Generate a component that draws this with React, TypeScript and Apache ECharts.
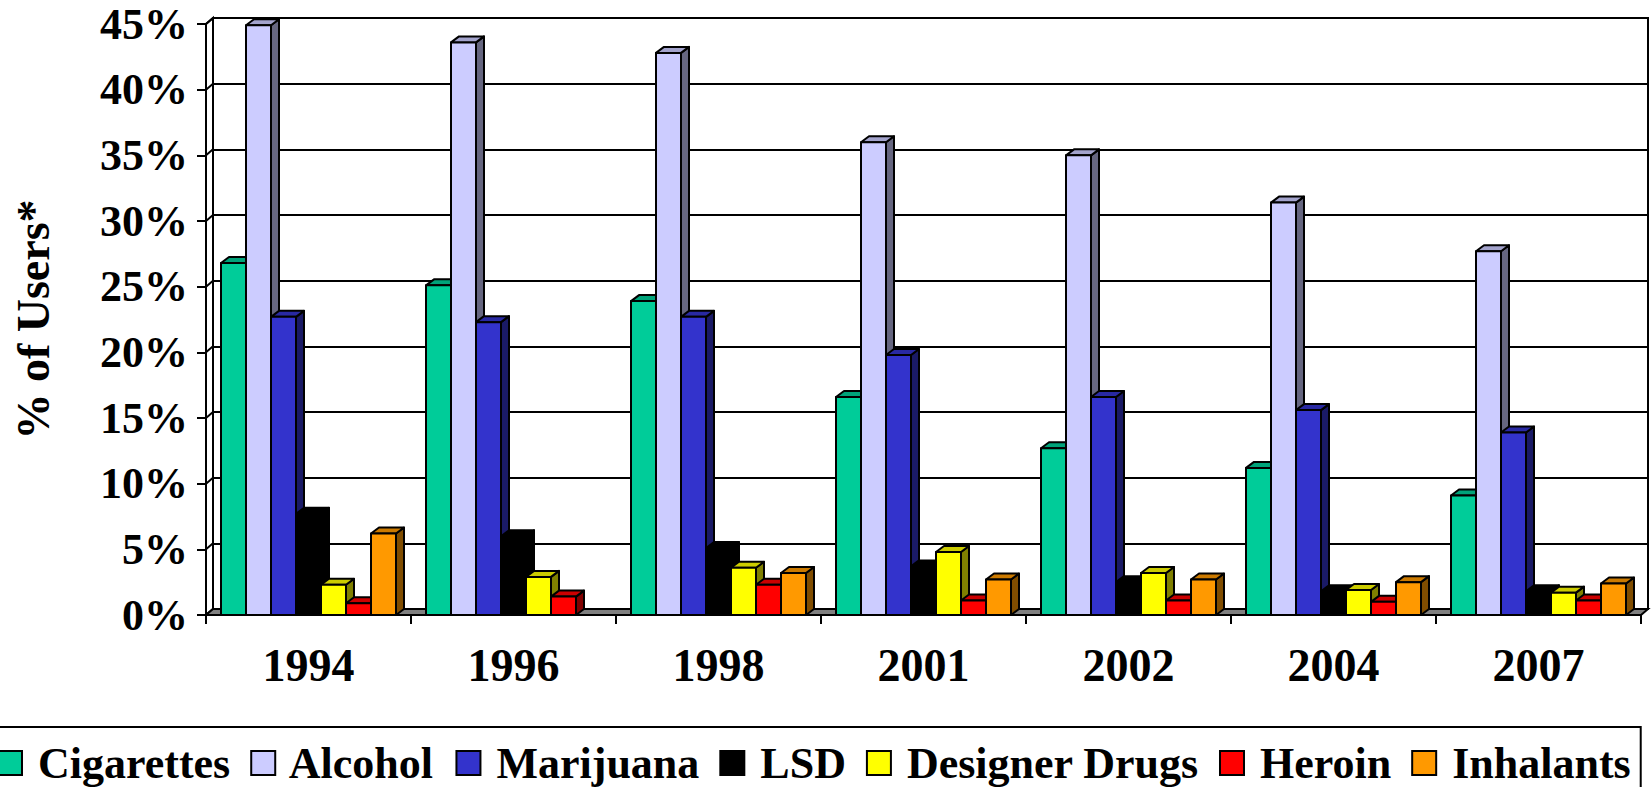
import React, { useEffect, useRef } from "react";
import * as echarts from "echarts";

// ---------- data ----------
const years = ["1994", "1996", "1998", "2001", "2002", "2004", "2007"];
const seriesNames = ["Cigarettes", "Alcohol", "Marijuana", "LSD", "Designer Drugs", "Heroin", "Inhalants"];
const cigarettes = [26.8, 25.1, 23.9, 16.6, 12.7, 11.2, 9.1];
const alcohol = [44.9, 43.6, 42.8, 36.0, 35.0, 31.4, 27.7];
const marijuana = [22.7, 22.3, 22.7, 19.8, 16.6, 15.6, 13.9];
const lsd = [7.7, 6.0, 5.1, 3.7, 2.5, 1.8, 1.8];
const designerDrugs = [2.3, 2.9, 3.6, 4.8, 3.2, 1.9, 1.7];
const heroin = [0.9, 1.4, 2.3, 1.1, 1.1, 1.0, 1.1];
const inhalants: (number | null)[] = [6.2, null, 3.2, 2.7, 2.7, 2.5, 2.4];
const yMin = 0;
const yMax = 45;
const yStep = 5;

const allValues = [cigarettes, alcohol, marijuana, lsd, designerDrugs, heroin, inhalants];

// ---------- styles ----------
const frontColors = ["#00CC99", "#CCCCFF", "#3333CC", "#000000", "#FFFF00", "#FF0000", "#FF9900"];
const topColors = ["#00A37A", "#A3A3CC", "#2929A3", "#000000", "#CCCC00", "#CC0000", "#CC7A00"];
const sideColors = ["#006650", "#666680", "#1A1A66", "#000000", "#808000", "#800000", "#804D00"];
const FONT = "'Liberation Serif', 'Times New Roman', serif";
const WALL_DX = 7;
const WALL_DY = 6;
const BAR_DX = 8;
const BAR_DY = 6;
const BAR_SLOT = 25 / 205;

const G_LEFT = 206;
const G_RIGHT = 11;
const G_TOP = 24;
const G_BOTTOM = 172;

function makeBarSeries(s: number): any {
  const vals = allValues[s];
  const data: any[] = [];
  vals.forEach((v, i) => {
    if (v !== null && v !== undefined) data.push([i, v]);
  });
  return {
    type: "custom",
    name: seriesNames[s],
    xAxisIndex: 0,
    yAxisIndex: 0,
    itemStyle: { color: frontColors[s], borderColor: "#000", borderWidth: 2 },
    data,
    encode: { x: 0, y: 1 },
    clip: false,
    silent: true,
    renderItem: (params: any, api: any) => {
      const cat = api.value(0);
      const v = api.value(1);
      const base = api.coord([cat, 0]);
      const top = api.coord([cat, v]);
      const band = api.size([1, 0])[0];
      const w = band * BAR_SLOT;
      const x0 = base[0] - (seriesNames.length * w) / 2 + s * w;
      const x1 = x0 + w;
      const ty = top[1];
      const by = base[1];
      const stroke = { stroke: "#000", lineWidth: 2, lineJoin: "round" };
      return {
        type: "group",
        children: [
          {
            type: "polygon",
            shape: {
              points: [
                [x1, ty],
                [x1 + BAR_DX, ty - BAR_DY],
                [x1 + BAR_DX, by - BAR_DY],
                [x1, by],
              ],
            },
            style: { fill: sideColors[s], ...stroke },
          },
          {
            type: "polygon",
            shape: {
              points: [
                [x0, ty],
                [x0 + BAR_DX, ty - BAR_DY],
                [x1 + BAR_DX, ty - BAR_DY],
                [x1, ty],
              ],
            },
            style: { fill: topColors[s], ...stroke },
          },
          {
            type: "rect",
            shape: { x: x0, y: ty, width: w, height: by - ty },
            style: { fill: frontColors[s], ...stroke },
          },
        ],
      };
    },
  };
}

const decorSeries: any = {
  type: "custom",
  name: "__decor",
  xAxisIndex: 0,
  yAxisIndex: 0,
  silent: true,
  clip: false,
  data: [[0, 0]],
  renderItem: (params: any, api: any) => {
    const cs = params.coordSys;
    const xl = cs.x;
    const xr = cs.x + cs.width;
    const yt = cs.y;
    const yb = cs.y + cs.height;
    const children: any[] = [];
    // left side wall
    children.push({
      type: "polygon",
      shape: {
        points: [
          [xl, yt],
          [xl + WALL_DX, yt - WALL_DY],
          [xl + WALL_DX, yb - WALL_DY],
          [xl, yb],
        ],
      },
      style: { fill: "#fff", stroke: "#000", lineWidth: 2 },
    });
    for (let v = yMin; v <= yMax; v += yStep) {
      const p = api.coord([0, v]);
      children.push({
        type: "line",
        shape: { x1: xl, y1: p[1], x2: xl + WALL_DX, y2: p[1] - WALL_DY },
        style: { stroke: "#000", lineWidth: 2 },
      });
    }
    // floor
    children.push({
      type: "polygon",
      shape: {
        points: [
          [xl, yb],
          [xl + WALL_DX, yb - WALL_DY],
          [xr + WALL_DX, yb - WALL_DY],
          [xr, yb],
        ],
      },
      style: { fill: "#808080", stroke: "#000", lineWidth: 2 },
    });
    return { type: "group", children };
  },
};

export default function App() {
  const ref = useRef<HTMLDivElement>(null);
  useEffect(() => {
    if (!ref.current) return;
    const chart = echarts.init(ref.current, undefined, { renderer: "svg" });
    const option: any = {
      animation: false,
      backgroundColor: "#fff",
      textStyle: { fontFamily: FONT },
      grid: [
        { left: G_LEFT, right: G_RIGHT, top: G_TOP, bottom: G_BOTTOM, containLabel: false },
        {
          left: G_LEFT + WALL_DX,
          right: G_RIGHT - WALL_DX,
          top: G_TOP - WALL_DY,
          bottom: G_BOTTOM + WALL_DY,
          show: true,
          backgroundColor: "#fff",
          borderColor: "#000",
          borderWidth: 2,
          z: 0,
        },
      ],
      xAxis: [
        {
          type: "category",
          gridIndex: 0,
          data: years,
          axisLine: { show: true, lineStyle: { color: "#000", width: 2 } },
          axisTick: { show: true, length: 9, lineStyle: { color: "#000", width: 2 } },
          axisLabel: {
            margin: 27,
            color: "#000",
            fontFamily: FONT,
            fontWeight: "bold",
            fontSize: 46,
          },
          splitLine: { show: false },
          z: 3,
        },
        { type: "category", gridIndex: 1, data: years, show: false },
      ],
      yAxis: [
        {
          type: "value",
          gridIndex: 0,
          min: yMin,
          max: yMax,
          interval: yStep,
          name: "% of Users*",
          nameLocation: "middle",
          nameRotate: 90,
          nameGap: 150,
          nameTextStyle: { color: "#000", fontFamily: FONT, fontWeight: "bold", fontSize: 46 },
          axisLine: { show: true, lineStyle: { color: "#000", width: 2 } },
          axisTick: { show: true, length: 9, lineStyle: { color: "#000", width: 2 } },
          axisLabel: {
            formatter: "{value}%",
            margin: 18,
            color: "#000",
            fontFamily: FONT,
            fontWeight: "bold",
            fontSize: 44,
          },
          splitLine: { show: false },
        },
        {
          type: "value",
          gridIndex: 1,
          min: yMin,
          max: yMax,
          interval: yStep,
          axisLine: { show: false },
          axisTick: { show: false },
          axisLabel: { show: false },
          splitLine: { show: true, lineStyle: { color: "#000", width: 2 } },
        },
      ],
      legend: {
        data: seriesNames,
        left: -13,
        top: 727,
        width: 1720,
        orient: "horizontal",
        icon: "rect",
        itemWidth: 24,
        itemHeight: 24,
        itemGap: 20,
        padding: [14, 10, 14, 10],
        borderColor: "#000",
        borderWidth: 2,
        backgroundColor: "#fff",
        selectedMode: false,
        itemStyle: { borderColor: "#000", borderWidth: 2 },
        formatter: (name: string) => " " + name,
        textStyle: { color: "#000", fontFamily: FONT, fontWeight: "bold", fontSize: 44 },
      },
      series: [decorSeries, ...seriesNames.map((_, s) => makeBarSeries(s))],
    };
    chart.setOption(option);
    return () => chart.dispose();
  }, []);
  return (
    <div
      ref={ref}
      style={{ position: "fixed", left: 0, top: 0, width: 1652, height: 787, background: "#fff" }}
    />
  );
}
